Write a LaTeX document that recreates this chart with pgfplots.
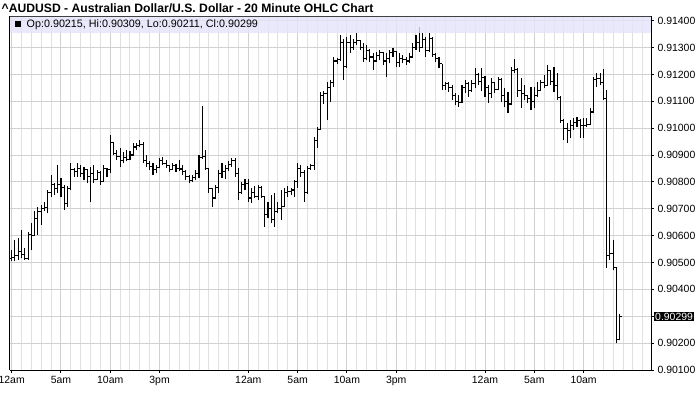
\documentclass[border=0pt]{standalone}
\usepackage{pgfplots}
\pgfplotsset{compat=1.18}
\usepackage{pgfplotstable}
\usepackage{fontspec}
\setmainfont{Liberation Sans}
\definecolor{bandcol}{RGB}{228,228,250}
\definecolor{gridmin}{RGB}{224,224,224}
\definecolor{gridmaj}{RGB}{208,208,208}

\pgfplotstableread{
i o h l c
0 0.90515 0.90547 0.90504 0.90520
1 0.90520 0.90584 0.90504 0.90525
2 0.90525 0.90590 0.90510 0.90540
3 0.90540 0.90621 0.90516 0.90530
4 0.90530 0.90553 0.90510 0.90515
5 0.90515 0.90615 0.90510 0.90605
6 0.90605 0.90646 0.90547 0.90600
7 0.90600 0.90690 0.90600 0.90665
8 0.90665 0.90708 0.90603 0.90690
9 0.90690 0.90714 0.90640 0.90700
10 0.90700 0.90727 0.90690 0.90705
11 0.90705 0.90770 0.90683 0.90760
12 0.90760 0.90826 0.90745 0.90790
13 0.90790 0.90795 0.90752 0.90775
14 0.90775 0.90863 0.90758 0.90790
15 0.90790 0.90814 0.90745 0.90780
16 0.90780 0.90789 0.90696 0.90720
17 0.90720 0.90783 0.90708 0.90775
18 0.90775 0.90870 0.90770 0.90845
19 0.90845 0.90851 0.90820 0.90840
20 0.90840 0.90870 0.90820 0.90850
21 0.90850 0.90863 0.90820 0.90830
22 0.90830 0.90857 0.90807 0.90845
23 0.90845 0.90848 0.90795 0.90820
24 0.90820 0.90857 0.90727 0.90830
25 0.90830 0.90863 0.90795 0.90810
26 0.90810 0.90845 0.90807 0.90835
27 0.90835 0.90840 0.90789 0.90800
28 0.90800 0.90863 0.90798 0.90850
29 0.90850 0.90852 0.90820 0.90845
30 0.90845 0.90975 0.90835 0.90945
31 0.90945 0.90950 0.90900 0.90905
32 0.90905 0.90920 0.90880 0.90895
33 0.90895 0.90925 0.90857 0.90880
34 0.90880 0.90913 0.90869 0.90890
35 0.90890 0.90919 0.90876 0.90885
36 0.90885 0.90915 0.90882 0.90900
37 0.90900 0.90944 0.90898 0.90930
38 0.90930 0.90944 0.90920 0.90935
39 0.90935 0.90956 0.90931 0.90940
40 0.90940 0.90950 0.90869 0.90880
41 0.90880 0.90900 0.90857 0.90870
42 0.90870 0.90876 0.90845 0.90858
43 0.90858 0.90869 0.90826 0.90845
44 0.90845 0.90863 0.90832 0.90855
45 0.90855 0.90888 0.90850 0.90880
46 0.90880 0.90892 0.90863 0.90870
47 0.90870 0.90882 0.90852 0.90860
48 0.90860 0.90863 0.90838 0.90845
49 0.90845 0.90869 0.90843 0.90862
50 0.90862 0.90865 0.90838 0.90850
51 0.90850 0.90882 0.90840 0.90848
52 0.90848 0.90863 0.90826 0.90840
53 0.90840 0.90845 0.90807 0.90820
54 0.90820 0.90826 0.90795 0.90805
55 0.90805 0.90826 0.90800 0.90815
56 0.90815 0.90845 0.90807 0.90830
57 0.90830 0.90900 0.90814 0.90890
58 0.90890 0.91083 0.90885 0.90895
59 0.90895 0.90919 0.90845 0.90850
60 0.90850 0.90851 0.90760 0.90775
61 0.90775 0.90778 0.90707 0.90740
62 0.90740 0.90790 0.90735 0.90780
63 0.90780 0.90845 0.90758 0.90830
64 0.90830 0.90869 0.90814 0.90840
65 0.90840 0.90863 0.90810 0.90850
66 0.90850 0.90876 0.90840 0.90865
67 0.90865 0.90888 0.90857 0.90880
68 0.90880 0.90888 0.90820 0.90830
69 0.90830 0.90850 0.90733 0.90760
70 0.90760 0.90801 0.90755 0.90790
71 0.90790 0.90810 0.90770 0.90795
72 0.90795 0.90810 0.90727 0.90740
73 0.90740 0.90776 0.90721 0.90760
74 0.90760 0.90783 0.90740 0.90745
75 0.90745 0.90789 0.90733 0.90780
76 0.90780 0.90783 0.90739 0.90745
77 0.90745 0.90748 0.90634 0.90680
78 0.90680 0.90727 0.90665 0.90700
79 0.90700 0.90752 0.90646 0.90660
80 0.90660 0.90758 0.90634 0.90690
81 0.90690 0.90727 0.90685 0.90700
82 0.90700 0.90770 0.90658 0.90710
83 0.90710 0.90776 0.90705 0.90760
84 0.90760 0.90783 0.90745 0.90765
85 0.90765 0.90776 0.90752 0.90770
86 0.90770 0.90807 0.90745 0.90800
87 0.90800 0.90869 0.90776 0.90850
88 0.90850 0.90863 0.90820 0.90835
89 0.90835 0.90845 0.90727 0.90760
90 0.90760 0.90860 0.90755 0.90850
91 0.90850 0.90865 0.90845 0.90860
92 0.90860 0.90968 0.90845 0.90955
93 0.90955 0.91006 0.90925 0.90995
94 0.90995 0.91136 0.90993 0.91120
95 0.91120 0.91140 0.91090 0.91130
96 0.91130 0.91173 0.91031 0.91150
97 0.91150 0.91179 0.91099 0.91170
98 0.91170 0.91266 0.91155 0.91250
99 0.91250 0.91260 0.91240 0.91255
100 0.91255 0.91347 0.91250 0.91320
101 0.91320 0.91330 0.91179 0.91230
102 0.91230 0.91341 0.91225 0.91320
103 0.91320 0.91347 0.91279 0.91300
104 0.91300 0.91330 0.91290 0.91320
105 0.91320 0.91353 0.91310 0.91325
106 0.91325 0.91328 0.91291 0.91300
107 0.91300 0.91316 0.91248 0.91260
108 0.91260 0.91310 0.91254 0.91290
109 0.91290 0.91295 0.91248 0.91265
110 0.91265 0.91279 0.91217 0.91250
111 0.91250 0.91285 0.91245 0.91270
112 0.91270 0.91290 0.91254 0.91280
113 0.91280 0.91285 0.91235 0.91250
114 0.91250 0.91279 0.91192 0.91260
115 0.91260 0.91291 0.91241 0.91280
116 0.91280 0.91297 0.91266 0.91285
117 0.91285 0.91288 0.91229 0.91245
118 0.91245 0.91279 0.91229 0.91260
119 0.91260 0.91272 0.91241 0.91255
120 0.91255 0.91266 0.91235 0.91250
121 0.91250 0.91279 0.91241 0.91265
122 0.91265 0.91316 0.91262 0.91300
123 0.91300 0.91347 0.91291 0.91320
124 0.91320 0.91378 0.91285 0.91300
125 0.91300 0.91353 0.91297 0.91330
126 0.91330 0.91341 0.91266 0.91290
127 0.91290 0.91353 0.91285 0.91335
128 0.91335 0.91341 0.91266 0.91275
129 0.91275 0.91279 0.91248 0.91260
130 0.91260 0.91266 0.91223 0.91240
131 0.91240 0.91240 0.91142 0.91160
132 0.91160 0.91173 0.91142 0.91165
133 0.91165 0.91173 0.91136 0.91150
134 0.91150 0.91161 0.91105 0.91120
135 0.91120 0.91130 0.91086 0.91100
136 0.91100 0.91124 0.91080 0.91095
137 0.91095 0.91161 0.91092 0.91150
138 0.91150 0.91179 0.91130 0.91165
139 0.91165 0.91173 0.91117 0.91140
140 0.91140 0.91179 0.91136 0.91165
141 0.91165 0.91223 0.91150 0.91200
142 0.91200 0.91204 0.91160 0.91175
143 0.91175 0.91223 0.91140 0.91190
144 0.91190 0.91195 0.91117 0.91150
145 0.91150 0.91161 0.91095 0.91130
146 0.91130 0.91186 0.91111 0.91170
147 0.91170 0.91173 0.91130 0.91145
148 0.91145 0.91192 0.91142 0.91180
149 0.91180 0.91185 0.91099 0.91120
150 0.91120 0.91148 0.91080 0.91100
151 0.91100 0.91136 0.91055 0.91090
152 0.91090 0.91229 0.91085 0.91215
153 0.91215 0.91256 0.91205 0.91220
154 0.91220 0.91225 0.91117 0.91140
155 0.91140 0.91186 0.91074 0.91130
156 0.91130 0.91160 0.91105 0.91120
157 0.91120 0.91124 0.91093 0.91110
158 0.91110 0.91155 0.91068 0.91100
159 0.91100 0.91155 0.91074 0.91120
160 0.91120 0.91173 0.91117 0.91140
161 0.91140 0.91179 0.91138 0.91170
162 0.91170 0.91198 0.91150 0.91160
163 0.91160 0.91235 0.91158 0.91215
164 0.91215 0.91217 0.91161 0.91175
165 0.91175 0.91229 0.91136 0.91160
166 0.91160 0.91204 0.91105 0.91115
167 0.91115 0.91118 0.91020 0.91030
168 0.91030 0.91035 0.90956 0.91000
169 0.91000 0.91018 0.90944 0.90990
170 0.90990 0.91031 0.90962 0.91010
171 0.91010 0.91037 0.90993 0.91020
172 0.91020 0.91043 0.91006 0.91030
173 0.91030 0.91035 0.90962 0.91010
174 0.91010 0.91037 0.90962 0.91010
175 0.91010 0.91037 0.91006 0.91015
176 0.91015 0.91074 0.91010 0.91060
177 0.91060 0.91192 0.91058 0.91180
178 0.91180 0.91204 0.91155 0.91185
179 0.91185 0.91204 0.91161 0.91170
180 0.91170 0.91219 0.91105 0.91110
181 0.91110 0.91142 0.90479 0.90527
182 0.90527 0.90671 0.90510 0.90535
183 0.90535 0.90582 0.90472 0.90482
184 0.90482 0.90484 0.90200 0.90215
185 0.90215 0.90309 0.90211 0.90299
}\ohlc

\begin{document}
\begin{tikzpicture}[x=1bp,y=1bp]
\begin{axis}[
  at={(10bp,41bp)}, anchor=south west,
  scale only axis, width=641bp, height=353.5bp,
  xmin=-0.5, xmax=194.5, ymin=0.901, ymax=0.914156,
  axis x line*=bottom, axis y line*=right,
  axis line style={black, line width=1bp, -},
  xtick={0,15,30,45,72,87,102,117,144,159,174},
  xticklabels={12am,5am,10am,3pm,12am,5am,10am,3pm,12am,5am,10am},
  minor xtick={3,6,9,12,18,21,24,27,33,36,39,42,48,51,54,57,60,63,66,69,75,78,81,84,90,93,96,99,105,108,111,114,120,123,126,129,132,135,138,141,147,150,153,156,162,165,168,171,177,180,183,186,189,192},
  ytick={0.901,0.902,0.903,0.904,0.905,0.906,0.907,0.908,0.909,0.910,0.911,0.912,0.913,0.914},
  yticklabels={0.90100,0.90200,{},0.90400,0.90500,0.90600,0.90700,0.90800,0.90900,0.91000,0.91100,0.91200,0.91300,0.91400},
  xmajorgrids, xminorgrids, ymajorgrids,
  major grid style={draw=gridmaj, line width=1bp},
  minor grid style={draw=gridmin, line width=1bp},
  tick align=outside, major tick length=3bp, minor tick length=0bp,
  tick style={black, line width=1bp},
  ticklabel style={font=\fontsize{10.5}{12}\selectfont},
  scaled y ticks=false,
  clip=false,
  ohlc/.style={draw=none, mark=none, forget plot,
    error bars/error mark=none,
    error bars/error bar style={draw=black, solid, line width=1.1bp}},
]
\addplot[ohlc, error bars/y dir=plus, error bars/y explicit]
  table[x=i, y=l, y error expr=\thisrow{h}-\thisrow{l}] {\ohlc};
\addplot[ohlc, error bars/x dir=minus, error bars/x fixed=0.6]
  table[x=i, y=o] {\ohlc};
\addplot[ohlc, error bars/x dir=plus, error bars/x fixed=0.6]
  table[x=i, y=c] {\ohlc};
\fill[bandcol, fill opacity=0.8] (rel axis cs:0,1) rectangle (axis cs:194.5,0.913557);
\draw[black!75, line width=1bp] (rel axis cs:0,1) -- (rel axis cs:1,1);
\draw[black, line width=1bp] (rel axis cs:0,0) -- (rel axis cs:0,1);
\node[fill=black, text=white, anchor=west, inner sep=1bp,
  font=\fontsize{10.5}{12}\selectfont] at (axis cs:194.5,0.90299) [xshift=3bp] {0.90299};
\end{axis}
\node[anchor=base west, inner sep=0pt, font=\bfseries\fontsize{12.2}{14}\selectfont]
  at (1.5bp,398.3bp) {\textasciicircum AUDUSD - Australian Dollar/U.S. Dollar - 20 Minute OHLC Chart};
\fill[black] (15bp,383.7bp) rectangle (21bp,390.3bp);
\node[anchor=base west, inner sep=0pt, font=\fontsize{10.8}{12}\selectfont]
  at (26.5bp,383bp) {Op:0.90215, Hi:0.90309, Lo:0.90211, Cl:0.90299};
\pgfresetboundingbox
\path[use as bounding box] (0,0) rectangle (700bp,411bp);
\end{tikzpicture}
\end{document}
